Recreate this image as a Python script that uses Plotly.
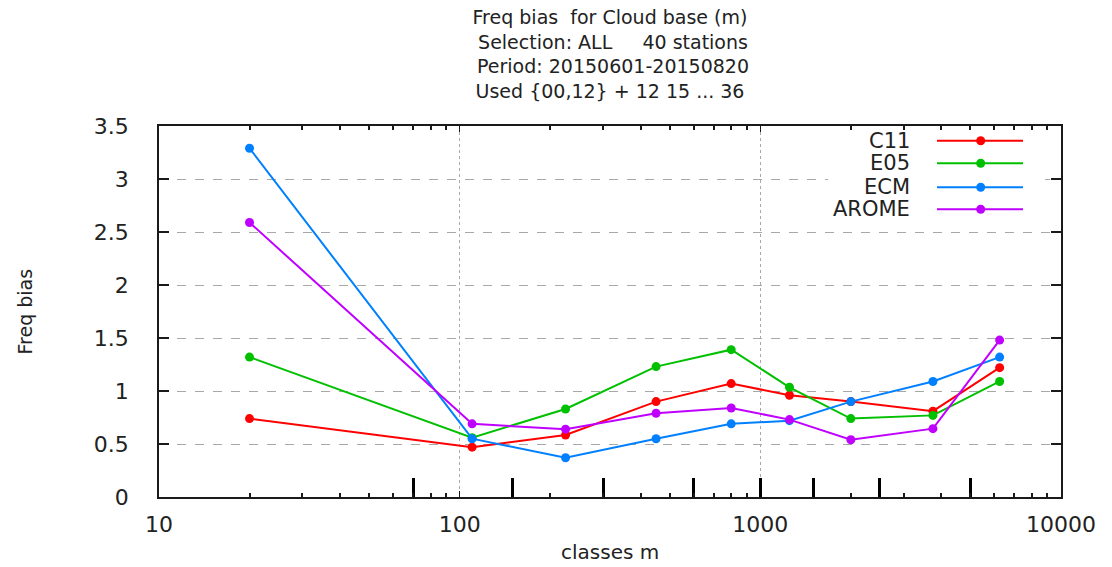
import plotly.graph_objects as go

# ---- data ----
classes = [20, 110, 225, 450, 800, 1250, 2000, 3750, 6250]
class_bounds = [70, 150, 300, 600, 1000, 1500, 2500, 5000]
series_names = ["C11", "E05", "ECM", "AROME"]
C11 = [0.74, 0.47, 0.585, 0.90, 1.07, 0.96, 0.90, 0.81, 1.22]
E05 = [1.32, 0.56, 0.83, 1.23, 1.39, 1.035, 0.74, 0.77, 1.09]
ECM = [3.29, 0.55, 0.37, 0.55, 0.69, 0.72, 0.90, 1.09, 1.32]
AROME = [2.59, 0.69, 0.64, 0.79, 0.84, 0.73, 0.54, 0.645, 1.48]
colors = ["#ff0000", "#00c000", "#0080ff", "#c000ff"]
x_major = [10, 100, 1000, 10000]
x_major_labels = ["10", "100", "1000", "10000"]
x_minor = [20, 30, 40, 50, 60, 70, 80, 90,
           200, 300, 400, 500, 600, 700, 800, 900,
           2000, 3000, 4000, 5000, 6000, 7000, 8000, 9000]
title_lines = [
    "Freq bias\u00a0 for Cloud base (m)",
    "\u00a0Selection: ALL\u00a0\u00a0\u00a0\u00a0 40 stations",
    "\u00a0Period: 20150601-20150820",
    "Used {00,12} + 12 15 ... 36",
]
x_label = "classes m"
y_label = "Freq bias"

W, H = 1112, 567
L, R, T, B = 159, 51, 126, 70
PW, PH = W - L - R, H - T - B
FONT = "DejaVu Sans"
FS = 20
TFS = 22
AX = "#1a1a1a"
TXT = "#222222"

fig = go.Figure()
for name, vals, col in zip(series_names, [C11, E05, ECM, AROME], colors):
    fig.add_trace(go.Scatter(
        x=classes, y=vals, name=name, mode="lines+markers",
        line=dict(color=col, width=2),
        marker=dict(color=col, size=9, symbol="circle"),
        showlegend=False,
    ))

# overlay axes carrying the class-boundary marks and the minor log ticks
fig.add_trace(go.Scatter(x=class_bounds, y=[None] * len(class_bounds),
                         xaxis="x2", yaxis="y", showlegend=False,
                         hoverinfo="skip", mode="markers"))
fig.add_trace(go.Scatter(x=x_minor, y=[None] * len(x_minor),
                         xaxis="x3", yaxis="y", showlegend=False,
                         hoverinfo="skip", mode="markers"))

fig.update_layout(
    width=W, height=H,
    margin=dict(l=L, r=R, t=T, b=B),
    paper_bgcolor="white", plot_bgcolor="white",
    font=dict(family=FONT, size=FS, color=TXT),
    xaxis=dict(
        type="log", range=[1, 4], tickmode="array",
        tickvals=x_major, ticktext=x_major_labels,
        ticks="inside", ticklen=6, tickcolor=AX, tickwidth=1,
        showline=True, linecolor=AX, linewidth=1.5, mirror="ticks",
        showgrid=True, gridcolor="#a8a8a8", griddash="dot", gridwidth=1,
        zeroline=False, ticklabelstandoff=7,
        tickfont=dict(family=FONT, size=TFS, color=TXT),
    ),
    xaxis2=dict(
        type="log", range=[1, 4], overlaying="x", anchor="y", side="bottom",
        tickmode="array", tickvals=class_bounds, ticks="inside", ticklen=19,
        tickwidth=3, tickcolor="#000000", showticklabels=False,
        showgrid=False, showline=False, zeroline=False,
    ),
    xaxis3=dict(
        type="log", range=[1, 4], overlaying="x", anchor="y", side="bottom",
        tickmode="array", tickvals=x_minor, ticks="inside", ticklen=4,
        tickwidth=1.5, tickcolor=AX, showticklabels=False, mirror="ticks",
        showgrid=False, showline=True, linecolor=AX, linewidth=1.5, zeroline=False,
    ),
    yaxis=dict(
        range=[0, 3.5], dtick=0.5,
        ticks="inside", ticklen=10, tickcolor=AX, tickwidth=1.5,
        showline=True, linecolor=AX, linewidth=1.5, mirror="ticks",
        showgrid=True, gridcolor="#a8a8a8", griddash="dash", gridwidth=1,
        zeroline=False, ticklabelstandoff=24,
        tickfont=dict(family=FONT, size=TFS, color=TXT),
    ),
)

ann = []
ann.append(dict(text="<br>".join(title_lines), xref="paper", yref="paper",
                x=0.5, y=1, yshift=T - 54, xanchor="center", yanchor="middle",
                align="center", showarrow=False,
                font=dict(family=FONT, size=19, color=TXT)))
ann.append(dict(text=x_label, xref="paper", yref="paper", x=0.5, y=0,
                yshift=-(552 - (H - B)), xanchor="center", yanchor="middle",
                showarrow=False, font=dict(family=FONT, size=FS, color=TXT)))
ann.append(dict(text=y_label, xref="paper", yref="paper", x=0, y=0.5,
                xshift=-(L - 24), xanchor="center", yanchor="middle", textangle=-90,
                showarrow=False, font=dict(family=FONT, size=19, color=TXT)))

# key (gnuplot style: text right-aligned, sample on the right)
def px(xp):
    return (xp - L) / PW

def py(yp):
    return 1 - (yp - T) / PH

shapes = [dict(type="rect", xref="paper", yref="paper", x0=px(828), x1=px(1045),
               y0=py(222), y1=py(130), fillcolor="white", line=dict(width=0), layer="above")]
rows = [140.7, 163.3, 187.3, 209.3]
for name, col, yr in zip(series_names, colors, rows):
    shapes.append(dict(type="line", xref="paper", yref="paper", x0=px(937), x1=px(1023),
                       y0=py(yr), y1=py(yr), line=dict(color=col, width=2), layer="above"))
    shapes.append(dict(type="circle", xref="paper", yref="paper",
                       xsizemode="pixel", ysizemode="pixel",
                       xanchor=px(980.7), yanchor=py(yr), x0=-4.5, x1=4.5, y0=-4.5, y1=4.5,
                       fillcolor=col, line=dict(width=0), layer="above"))
    ann.append(dict(text=name, xref="paper", yref="paper", x=px(911.7), y=py(yr),
                    xanchor="right", yanchor="middle", showarrow=False,
                    font=dict(family=FONT, size=21, color=TXT)))

fig.update_layout(annotations=ann, shapes=shapes)
fig.write_html("out.html")
